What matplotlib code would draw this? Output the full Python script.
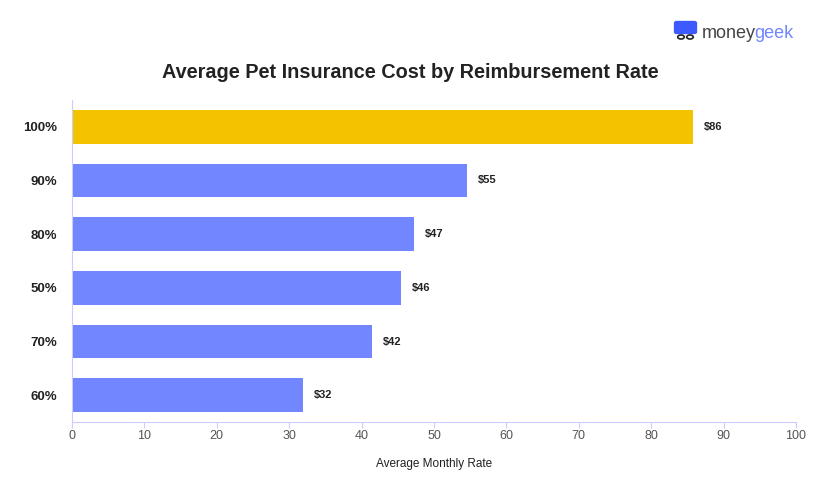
import numpy as np
import matplotlib.pyplot as plt
from matplotlib.patches import FancyBboxPatch, Circle

# data (bottom to top)
rates = ['60%', '70%', '50%', '80%', '90%', '100%']
costs = [31.9, 41.5, 45.4, 47.3, 54.6, 85.8]
cost_labels = ['$32', '$42', '$46', '$47', '$55', '$86']
bar_colors = ['#7186ff', '#7186ff', '#7186ff', '#7186ff', '#7186ff', '#f4c300']
xticks = [0, 10, 20, 30, 40, 50, 60, 70, 80, 90, 100]

plt.rcParams['font.family'] = ['Liberation Sans', 'DejaVu Sans']

fig = plt.figure(figsize=(8.2, 5), dpi=100)
ax = fig.add_axes([72 / 820, 1 - 422 / 500, (796 - 72) / 820, 322 / 500])

y = np.arange(len(rates))
ax.barh(y, costs, height=0.63, color=bar_colors, zorder=2)
for yi, c, lab in zip(y, costs, cost_labels):
    ax.text(c + 1.5, yi, lab, va='center', ha='left', fontsize=8,
            fontweight='bold', color='#222222')

ax.set_xlim(0, 100)
ax.set_ylim(-0.5, len(rates) - 0.5)
ax.set_xticks(xticks)
ax.set_yticks(y)
ax.set_yticklabels(rates, fontsize=9.5, fontweight='bold', color='#222222')
ax.tick_params(axis='y', length=0, pad=11)
ax.tick_params(axis='x', length=4, color='#ccccff', labelsize=9,
               labelcolor='#555555', pad=2)
for s in ['top', 'right']:
    ax.spines[s].set_visible(False)
ax.spines['left'].set_color('#ccccff')
ax.spines['bottom'].set_color('#ccccff')
ax.set_xlabel('Average Monthly Rate', fontsize=8.5, color='#222222', labelpad=11)

fig.text(0.5, 1 - 73 / 500, 'Average Pet Insurance Cost by Reimbursement Rate',
         ha='center', va='center', fontsize=14.3, fontweight='bold', color='#222222')

# moneygeek logo
t_money = fig.text(702 / 820, 1 - 33 / 500, 'money', fontsize=13, color='#444444',
                   ha='left', va='center')
fig.canvas.draw()
bb = t_money.get_window_extent().transformed(fig.transFigure.inverted())
fig.text(bb.x1 - 1.5 / 820, 1 - 33 / 500, 'geek', fontsize=13, color='#7186ff',
         ha='left', va='center')
fig.patches.append(FancyBboxPatch((677 / 820, 1 - 32 / 500), 17 / 820, 9 / 500,
                                  boxstyle='round,pad=0.003', color='#3d5afe',
                                  transform=fig.transFigure))
for cx in [681, 690]:
    fig.patches.append(Circle((cx / 820, 1 - 37 / 500), 0.004, fill=False,
                              lw=1.2, ec='#222222', transform=fig.transFigure))

fig.savefig('out.png', dpi=100)
